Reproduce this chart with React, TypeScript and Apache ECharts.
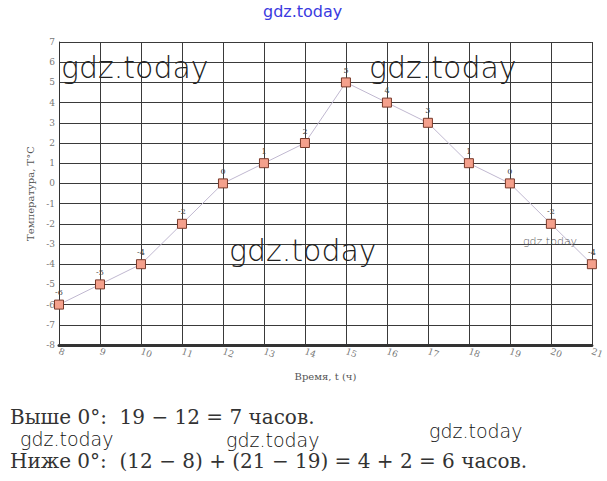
import React, { useEffect, useRef } from "react";
import * as echarts from "echarts";

const hours = [8, 9, 10, 11, 12, 13, 14, 15, 16, 17, 18, 19, 20, 21];
const temps = [-6, -5, -4, -2, 0, 1, 2, 5, 4, 3, 1, 0, -2, -4];
const yTitle = "Температура, T°C";
const xTitle = "Время, t (ч)";
const line1 = "Выше 0°:  19 − 12 = 7 часов.";
const line2 = "Ниже 0°:  (12 − 8) + (21 − 19) = 4 + 2 = 6 часов.";
const wm = "gdz.today";

export default function App() {
  const ref = useRef<HTMLDivElement>(null);
  useEffect(() => {
    if (!ref.current) return;
    const chart = echarts.init(ref.current, null, { renderer: "svg" });
    const wmFont = '"DejaVu Sans ExtraLight", "DejaVu Sans", sans-serif';
    const serif = '"DejaVu Serif", "Liberation Serif", serif';
    chart.setOption({
      animation: false,
      backgroundColor: "#ffffff",
      grid: { left: 59, right: 12, top: 42, bottom: 136, containLabel: false },
      xAxis: {
        type: "value",
        min: 8,
        max: 21,
        interval: 1,
        name: xTitle,
        nameLocation: "middle",
        nameGap: 26,
        nameTextStyle: { fontFamily: serif, fontSize: 10, color: "#555" },
        axisLine: { show: true, onZero: false, lineStyle: { color: "#333", width: 3 } },
        axisTick: { show: false },
        axisLabel: { rotate: -20, fontFamily: serif, fontSize: 9, color: "#777", margin: 6 },
        splitLine: { show: true, lineStyle: { color: "#3a3a3a", width: 1 } },
      },
      yAxis: {
        type: "value",
        min: -8,
        max: 7,
        interval: 1,
        name: yTitle,
        nameLocation: "middle",
        nameGap: 22,
        nameRotate: 90,
        nameTextStyle: { fontFamily: serif, fontSize: 10, color: "#555" },
        axisLine: { show: true, onZero: false, lineStyle: { color: "#333", width: 1 } },
        axisTick: { show: false },
        axisLabel: { fontFamily: serif, fontSize: 9, color: "#777", margin: 4 },
        splitLine: { show: true, lineStyle: { color: "#3a3a3a", width: 1 } },
      },
      series: [
        {
          type: "line",
          data: hours.map((h, i) => [h, temps[i]]),
          symbol: "rect",
          symbolSize: 9,
          itemStyle: { color: "#f4a08c", borderColor: "#7a3a2a", borderWidth: 1 },
          lineStyle: { color: "#c0b8d0", width: 1 },
          label: {
            show: true,
            position: "top",
            distance: 3,
            fontSize: 8,
            fontFamily: serif,
            color: "#444",
            formatter: (p: any) => String(p.value[1]),
          },
          z: 5,
        },
      ],
      graphic: [
        { type: "text", left: 263, top: 3, style: { text: wm, font: `16px ${wmFont}`, fill: "#3a3ae0" } },
        { type: "text", left: 61, top: 52, z: 10, style: { text: wm, font: `200 30px ${wmFont}`, fill: "#222" } },
        { type: "text", left: 369, top: 52, z: 10, style: { text: wm, font: `200 30px ${wmFont}`, fill: "#222" } },
        { type: "text", left: 229, top: 235, z: 10, style: { text: wm, font: `200 30px ${wmFont}`, fill: "#222" } },
        { type: "text", left: 523, top: 236, z: 10, style: { text: wm, font: `200 11px ${wmFont}`, fill: "#555" } },
        { type: "text", left: 10, top: 407, style: { text: line1, font: `20px ${serif}`, fill: "#333" } },
        { type: "text", left: 10, top: 451, style: { text: line2, font: `20px ${serif}`, fill: "#333" } },
        { type: "text", left: 20, top: 429, style: { text: wm, font: `200 19px ${wmFont}`, fill: "#111" } },
        { type: "text", left: 226, top: 430, style: { text: wm, font: `200 19px ${wmFont}`, fill: "#111" } },
        { type: "text", left: 429, top: 421, style: { text: wm, font: `200 19px ${wmFont}`, fill: "#111" } },
      ],
    });
    return () => chart.dispose();
  }, []);
  return (
    <div
      ref={ref}
      style={{ position: "absolute", left: 0, top: 0, width: 607, height: 481, background: "#fff" }}
    />
  );
}
